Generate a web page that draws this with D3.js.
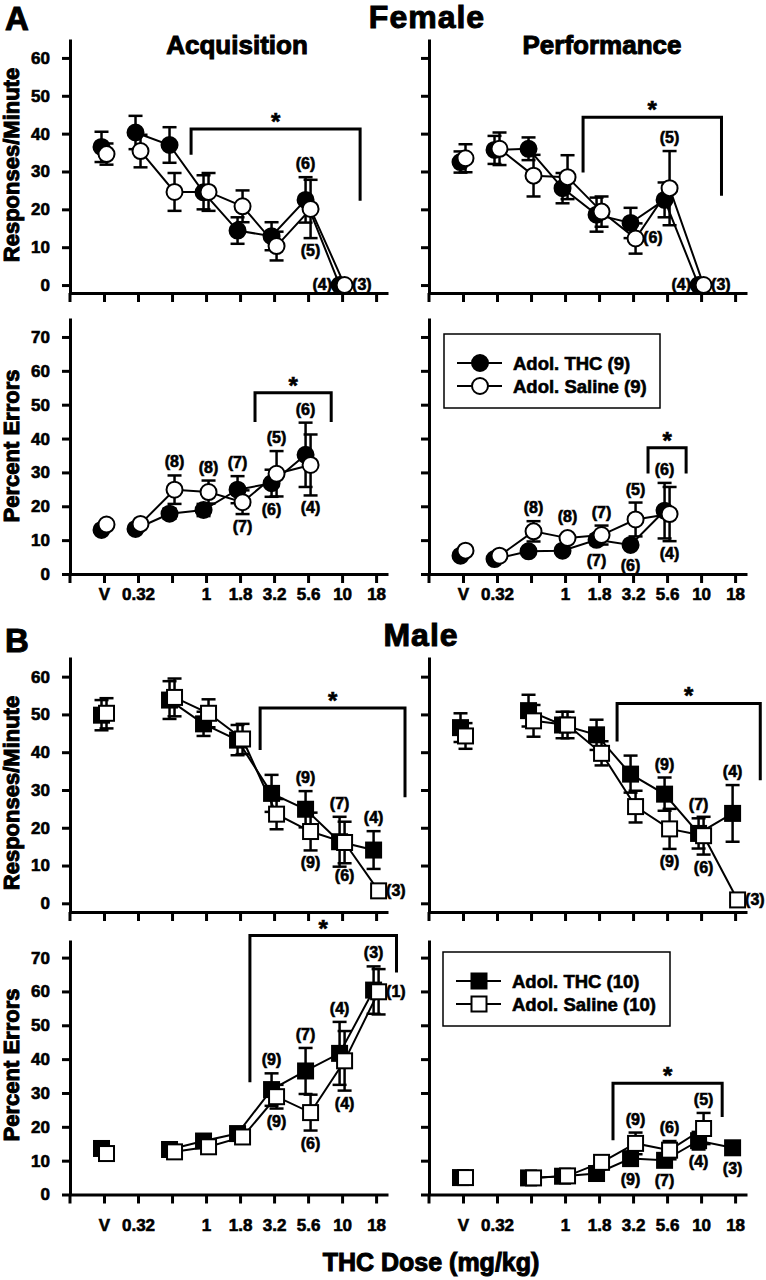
<!DOCTYPE html>
<html>
<head>
<meta charset="utf-8">
<script src="https://cdn.jsdelivr.net/npm/d3@7"></script>
<style>
  body { margin: 0; background: #fff; }
  svg { display: block; font-family: "Liberation Sans", Arial, sans-serif; font-weight: bold; }
  svg text { stroke: #000; stroke-width: 0.6px; }
  svg text.big { stroke-width: 1px; }
</style>
</head>
<body>
<div id="chart"></div>
<script>
// dose positions on the x axis (index 2 = 0.56, unlabeled in the original)
const doseLabels = ["V", "0.32", "", "1", "1.8", "3.2", "5.6", "10", "18"];

// Female, responses/minute
const femAcqRateThc   = [36.5, 40.3, 37.0, 24.5, 14.4, 12.9, 22.5, 0, null];
const femAcqRateThcSe = [4.0, 4.4, 4.7, 4.5, 3.5, 3.7, 6.0, 0, null];
const femAcqRateSal   = [34.6, 35.4, 24.6, 24.6, 20.8, 10.3, 20.1, 0, null];
const femAcqRateSalSe = [2.8, 4.3, 5.0, 5.0, 4.2, 3.8, 7.7, 0, null];

const femPerfRateThc   = [32.5, 35.7, 36.0, 25.6, 18.6, 16.4, 22.5, 0, null];
const femPerfRateThcSe = [2.8, 3.7, 3.0, 4.0, 4.5, 4.0, 4.6, 0, null];
const femPerfRateSal   = [33.5, 36.0, 28.9, 28.5, 19.4, 12.3, 25.6, 0, null];
const femPerfRateSalSe = [3.7, 4.3, 5.5, 5.8, 4.0, 4.0, 9.8, 0, null];

// Female, percent errors
const femAcqErrThc   = [13.0, 13.3, 17.8, 18.9, 24.9, 26.8, 35.2, null, null];
const femAcqErrThcSe = [1.0, 1.0, 1.5, 1.8, 4.0, 4.0, 9.5, null, null];
const femAcqErrSal   = [14.6, 14.8, 24.9, 24.2, 21.2, 29.6, 32.2, null, null];
const femAcqErrSalSe = [1.0, 1.0, 4.2, 3.4, 3.5, 6.7, 9.0, null, null];

const femPerfErrThc   = [5.4, 4.4, 6.7, 6.9, 10.1, 8.6, 18.7, null, null];
const femPerfErrThcSe = [0.8, 0.8, 1.0, 1.0, 1.5, 1.0, 8.2, null, null];
const femPerfErrSal   = [6.9, 5.4, 12.6, 10.6, 11.5, 16.1, 17.7, null, null];
const femPerfErrSalSe = [0.8, 0.8, 3.0, 1.0, 2.8, 5.0, 8.0, null, null];

// Male, responses/minute
const maleAcqRateThc   = [49.8, null, 53.8, 47.5, 43.2, 29.1, 24.9, 16.3, 14.1];
const maleAcqRateThcSe = [4.0, null, 5.0, 3.2, 4.0, 4.9, 4.8, 6.6, 5.0];
const maleAcqRateSal   = [50.3, null, 54.5, 50.3, 43.5, 23.6, 19.0, 16.1, 3.3];
const maleAcqRateSalSe = [4.0, null, 5.0, 3.7, 4.0, 4.0, 5.0, 5.5, 0];

const malePerfRateThc   = [46.5, null, 51.0, 47.2, 44.6, 34.2, 28.9, 18.5, 23.8];
const malePerfRateThcSe = [3.8, null, 4.2, 3.5, 4.0, 4.9, 4.4, 4.0, 7.5];
const malePerfRateSal   = [44.3, null, 48.3, 47.2, 39.7, 25.6, 19.7, 17.9, 0.9];
const malePerfRateSalSe = [3.4, null, 4.2, 3.5, 3.2, 4.2, 5.3, 5.0, 0];

// Male, percent errors
const maleAcqErrThc   = [13.6, null, 13.3, 15.8, 18.0, 31.0, 36.5, 41.7, 60.4];
const maleAcqErrThcSe = [1.0, null, 1.0, 1.0, 1.0, 4.8, 6.8, 9.3, 7.0];
const maleAcqErrSal   = [12.1, null, 12.6, 14.1, 17.0, 28.9, 24.2, 39.5, 59.9];
const maleAcqErrSalSe = [1.0, null, 1.0, 1.0, 1.0, 3.5, 5.3, 8.8, 6.7];

const malePerfErrThc   = [5.0, null, 4.9, 5.4, 6.2, 10.6, 10.1, 15.9, 13.8];
const malePerfErrThcSe = [0.5, null, 0.5, 0.5, 0.5, 1.0, 1.0, 2.6, 1.0];
const malePerfErrSal   = [5.0, null, 4.9, 5.5, 9.5, 15.1, 13.1, 19.5, null];
const malePerfErrSalSe = [0.5, null, 0.5, 0.5, 1.0, 3.2, 2.7, 4.6, null];

// significance brackets: [from dose idx, to dose idx, top value, left leg end, right leg end]
const femAcqRateBracket  = [2.56, 7.53, 41.2, 34.4, 22.3];
const femPerfRateBracket = [3.53, 7.60, 44.3, 29.7, 23.6];
const femAcqErrBracket   = [4.44, 6.68, 53.5, 44.9, 44.9];
const femPerfErrBracket  = [5.44, 6.56, 37.3, 29.7, 29.7];
const maleAcqRateBracket  = [4.59, 8.85, 51.7, 40.6, 28.1];
const malePerfRateBracket = [4.53, 8.74, 52.9, 42.8, 32.6];
const maleAcqErrBracket   = [4.29, 8.60, 76.5, 33.2, 65.6];
const malePerfErrBracket  = [4.41, 7.62, 32.9, 16.0, 22.9];

// group sizes shown next to points: [dose idx, series, side, text]
const femAcqRateNotes = [[6, "thc", "above", "(6)"], [6, "sal", "below", "(5)"], [7, "thc", "left", "(4)"], [7, "sal", "right", "(3)"]];
const femPerfRateNotes = [[6, "sal", "above", "(5)"], [5, "sal", "right", "(6)"], [7, "thc", "left", "(4)"], [7, "sal", "right", "(3)"]];
const femAcqErrNotes = [[2, "sal", "above", "(8)"], [3, "sal", "above", "(8)"], [4, "thc", "above", "(7)"], [4, "sal", "below", "(7)"],
                        [5, "sal", "above", "(5)"], [5, "thc", "below", "(6)"], [6, "thc", "above", "(6)"], [6, "sal", "below", "(4)"]];
const femPerfErrNotes = [[2, "sal", "above", "(8)"], [3, "sal", "above", "(8)"], [4, "sal", "above", "(7)"], [4, "thc", "below", "(7)"],
                         [5, "sal", "above", "(5)"], [5, "thc", "below", "(6)"], [6, "thc", "above", "(6)"], [6, "sal", "below", "(4)"]];
const maleAcqRateNotes = [[6, "thc", "above", "(9)"], [6, "sal", "below", "(9)"], [7, "thc", "above", "(7)"], [7, "sal", "below", "(6)"],
                          [8, "thc", "above", "(4)"], [8, "sal", "right", "(3)"]];
const malePerfRateNotes = [[6, "thc", "above", "(9)"], [6, "sal", "below", "(9)"], [7, "thc", "above", "(7)"], [7, "sal", "below", "(6)"],
                           [8, "thc", "above", "(4)"], [8, "sal", "right", "(3)"]];
const maleAcqErrNotes = [[5, "thc", "above", "(9)"], [5, "sal", "below", "(9)"], [6, "thc", "above", "(7)"], [6, "sal", "below", "(6)"],
                         [7, "thc", "above", "(4)"], [7, "sal", "below", "(4)"], [8, "thc", "above", "(3)"], [8, "sal", "right", "(1)"]];
const malePerfErrNotes = [[5, "sal", "above", "(9)"], [5, "thc", "below", "(9)"], [6, "sal", "above", "(6)"], [6, "thc", "below", "(7)"],
                          [7, "sal", "above", "(5)"], [7, "thc", "below", "(4)"], [8, "thc", "below", "(3)"]];

const femLegend = ["Adol. THC (9)", "Adol. Saline (9)"];
const maleLegend = ["Adol. THC (10)", "Adol. Saline (10)"];
const rateTicks = [0, 10, 20, 30, 40, 50, 60];
const errTicks = [0, 10, 20, 30, 40, 50, 60, 70];

const width = 766, height = 1280;
const svg = d3.select("#chart").append("svg")
    .attr("width", width)
    .attr("height", height);

const plotW = 318;
const x = d3.scaleLinear().domain([-1, 8.35]).range([0, plotW]);
const dodge = 2.5;

function drawPanel(opt) {
    const g = svg.append("g").attr("transform", `translate(${opt.left},${opt.top})`);
    const y = d3.scaleLinear().domain(opt.domain).range([opt.h, 0]);

    const yAxis = d3.axisLeft(y).tickValues(opt.yTicks).tickSize(8).tickSizeOuter(0).tickPadding(12);
    if (!opt.yLabels) yAxis.tickFormat("");
    const ya = g.append("g").call(yAxis);

    const xAxis = d3.axisBottom(x).tickValues(d3.range(9)).tickSize(9).tickSizeOuter(0).tickPadding(opt.xPad || 5)
        .tickFormat(opt.xLabels ? (i => doseLabels[i]) : "");
    const xa = g.append("g").attr("transform", `translate(0,${opt.h})`).call(xAxis);

    [ya, xa].forEach(a => {
        a.selectAll("path, line").attr("stroke", "#000").attr("stroke-width", 3);
        a.selectAll("text").attr("fill", "#000").style("font-size", "17px").style("font-family", "inherit");
    });
    g.append("line").attr("x1", 0).attr("x2", 0).attr("y1", opt.h).attr("y2", opt.h + 9)
        .attr("stroke", "#000").attr("stroke-width", 3);

    const series = {
        thc: { mean: opt.thc, se: opt.thcSe, fill: "#000", dx: -dodge },
        sal: { mean: opt.sal, se: opt.salSe, fill: "#fff", dx: dodge }
    };

    ["thc", "sal"].forEach(key => {
        const s = series[key];
        const pts = s.mean.map((m, i) => ({ i, m, s: s.se[i] })).filter(d => d.m != null);
        const px = d => x(d.i) + s.dx;

        g.append("path")
            .datum(pts.filter(d => d.i > 0))
            .attr("d", d3.line().x(px).y(d => y(d.m)))
            .attr("fill", "none").attr("stroke", "#000").attr("stroke-width", 2);

        const eb = g.append("g").attr("stroke", "#000").attr("stroke-width", 2.5)
            .selectAll("g").data(pts.filter(d => d.s > 0)).join("g");
        eb.append("line").attr("x1", px).attr("x2", px)
            .attr("y1", d => y(d.m - d.s)).attr("y2", d => y(d.m + d.s));
        eb.append("line").attr("x1", d => px(d) - 7).attr("x2", d => px(d) + 7)
            .attr("y1", d => y(d.m + d.s)).attr("y2", d => y(d.m + d.s));
        eb.append("line").attr("x1", d => px(d) - 7).attr("x2", d => px(d) + 7)
            .attr("y1", d => y(d.m - d.s)).attr("y2", d => y(d.m - d.s));

        const mk = g.append("g").attr("fill", s.fill).attr("stroke", "#000").attr("stroke-width", 2);
        if (opt.shape === "circle") {
            mk.selectAll("circle").data(pts).join("circle")
                .attr("cx", px).attr("cy", d => y(d.m)).attr("r", 8);
        } else {
            mk.selectAll("rect").data(pts).join("rect")
                .attr("x", d => px(d) - 7.5).attr("y", d => y(d.m) - 7.5)
                .attr("width", 15).attr("height", 15);
        }
    });

    // significance bracket
    const b = opt.bracket;
    g.append("path")
        .attr("d", `M${x(b[0])},${y(b[3])}V${y(b[2])}H${x(b[1])}V${y(b[4])}`)
        .attr("fill", "none").attr("stroke", "#000").attr("stroke-width", 3);
    g.append("text")
        .attr("x", (x(b[0]) + x(b[1])) / 2).attr("y", y(b[2]) + 1)
        .attr("text-anchor", "middle").style("font-size", "24px")
        .text("*");

    // n labels
    g.append("g").style("font-size", "16px")
        .selectAll("text").data(opt.notes).join("text")
        .each(function (n) {
            const s = series[n[1]];
            const m = s.mean[n[0]], se = s.se[n[0]] || 0;
            const cx = x(n[0]) + s.dx, cy = y(m);
            const t = d3.select(this).text(n[3]);
            if (n[2] === "above") {
                const top = Math.min(y(m + se), cy - 8);
                t.attr("x", cx).attr("y", top - 8).attr("text-anchor", "middle");
            } else if (n[2] === "below") {
                const bot = Math.max(y(m - se), cy + 8);
                t.attr("x", cx).attr("y", bot + 18).attr("text-anchor", "middle");
            } else if (n[2] === "left") {
                t.attr("x", x(n[0]) - 10).attr("y", cy + 5).attr("text-anchor", "end");
            } else {
                t.attr("x", x(n[0]) + 10).attr("y", cy + 5).attr("text-anchor", "start");
            }
        });
    return g;
}

function drawLegend(lx, ly, w, h, labels, shape) {
    const g = svg.append("g").attr("transform", `translate(${lx},${ly})`);
    g.append("rect").attr("width", w).attr("height", h)
        .attr("fill", "#fff").attr("stroke", "#000").attr("stroke-width", 1.5);
    const rows = g.selectAll("g.row").data(labels).join("g")
        .attr("transform", (d, i) => `translate(0,${29 + i * 23})`);
    rows.append("line").attr("x1", 13).attr("x2", 58)
        .attr("stroke", "#000").attr("stroke-width", 2);
    rows.each(function (d, i) {
        const r = d3.select(this);
        const fill = i === 0 ? "#000" : "#fff";
        if (shape === "circle") {
            r.append("circle").attr("cx", 36).attr("r", 8)
                .attr("fill", fill).attr("stroke", "#000").attr("stroke-width", 2);
        } else {
            r.append("rect").attr("x", 28.5).attr("y", -7.5).attr("width", 15).attr("height", 15)
                .attr("fill", fill).attr("stroke", "#000").attr("stroke-width", 2);
        }
    });
    rows.append("text").attr("x", 69).attr("y", 7).style("font-size", "18.5px").text(d => d);
}

const leftX = 70, rightX = 429;

drawPanel({ left: leftX, top: 39, h: 254, domain: [-2.1, 65], yTicks: rateTicks, yLabels: true, xLabels: false,
    thc: femAcqRateThc, thcSe: femAcqRateThcSe, sal: femAcqRateSal, salSe: femAcqRateSalSe,
    shape: "circle", bracket: femAcqRateBracket, notes: femAcqRateNotes });
drawPanel({ left: rightX, top: 39, h: 254, domain: [-2.1, 65], yTicks: rateTicks, yLabels: false, xLabels: false,
    thc: femPerfRateThc, thcSe: femPerfRateThcSe, sal: femPerfRateSal, salSe: femPerfRateSalSe,
    shape: "circle", bracket: femPerfRateBracket, notes: femPerfRateNotes });
drawPanel({ left: leftX, top: 318, h: 256, domain: [0, 75.6], yTicks: errTicks, yLabels: true, xLabels: true, xPad: 5,
    thc: femAcqErrThc, thcSe: femAcqErrThcSe, sal: femAcqErrSal, salSe: femAcqErrSalSe,
    shape: "circle", bracket: femAcqErrBracket, notes: femAcqErrNotes });
drawPanel({ left: rightX, top: 318, h: 256, domain: [0, 75.6], yTicks: errTicks, yLabels: false, xLabels: true, xPad: 5,
    thc: femPerfErrThc, thcSe: femPerfErrThcSe, sal: femPerfErrSal, salSe: femPerfErrSalSe,
    shape: "circle", bracket: femPerfErrBracket, notes: femPerfErrNotes });

drawPanel({ left: leftX, top: 657, h: 255, domain: [-2.3, 65.2], yTicks: rateTicks, yLabels: true, xLabels: false,
    thc: maleAcqRateThc, thcSe: maleAcqRateThcSe, sal: maleAcqRateSal, salSe: maleAcqRateSalSe,
    shape: "square", bracket: maleAcqRateBracket, notes: maleAcqRateNotes });
drawPanel({ left: rightX, top: 657, h: 255, domain: [-2.3, 65.2], yTicks: rateTicks, yLabels: false, xLabels: false,
    thc: malePerfRateThc, thcSe: malePerfRateThcSe, sal: malePerfRateSal, salSe: malePerfRateSalSe,
    shape: "square", bracket: malePerfRateBracket, notes: malePerfRateNotes });
drawPanel({ left: leftX, top: 940, h: 254.5, domain: [0, 75.2], yTicks: errTicks, yLabels: true, xLabels: true, xPad: 15,
    thc: maleAcqErrThc, thcSe: maleAcqErrThcSe, sal: maleAcqErrSal, salSe: maleAcqErrSalSe,
    shape: "square", bracket: maleAcqErrBracket, notes: maleAcqErrNotes });
drawPanel({ left: rightX, top: 940, h: 254.5, domain: [0, 75.2], yTicks: errTicks, yLabels: false, xLabels: true, xPad: 15,
    thc: malePerfErrThc, thcSe: malePerfErrThcSe, sal: malePerfErrSal, salSe: malePerfErrSalSe,
    shape: "square", bracket: malePerfErrBracket, notes: malePerfErrNotes });

drawLegend(444, 334, 216, 74, femLegend, "circle");
drawLegend(443, 952, 227, 74, maleLegend, "square");

// titles and labels
function label(txt, tx, ty, size, anchor, rotate) {
    const t = svg.append("text").text(txt).attr("class", "big").style("font-size", size + "px")
        .attr("text-anchor", anchor || "middle");
    if (rotate) t.attr("transform", `translate(${tx},${ty}) rotate(-90)`);
    else t.attr("x", tx).attr("y", ty);
    return t;
}
label("A", 5, 30, 33, "start");
label("B", 5, 652, 33, "start");
label("Female", 427, 28, 32).style("letter-spacing", "1px");
label("Male", 421, 646, 32).style("letter-spacing", "1px");
label("Acquisition", 237, 54, 26);
label("Performance", 602, 54, 26);
label("Responses/Minute", 19, 165, 22, "middle", true);
label("Percent Errors", 19, 446, 22, "middle", true);
label("Responses/Minute", 19, 793, 22, "middle", true);
label("Percent Errors", 19, 1065, 22, "middle", true);
label("THC Dose (mg/kg)", 431, 1271, 25);
</script>
</body>
</html>
